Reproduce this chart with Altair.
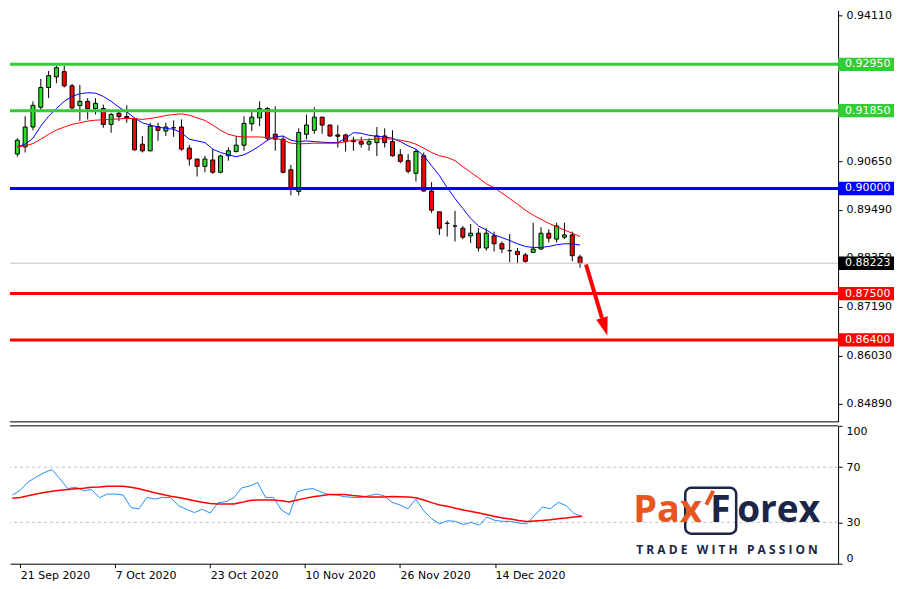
import json
import altair as alt
import pandas as pd

# ---------------- data ----------------
opens = [0.90818, 0.90989, 0.91460, 0.91930, 0.92400, 0.92652, 0.92777, 0.92440, 0.91970, 0.92071,
         0.91900, 0.91900, 0.91523, 0.91789, 0.91711, 0.91655, 0.91053, 0.90895, 0.91467, 0.91366,
         0.91443, 0.91460, 0.90959, 0.90700, 0.90526, 0.90677, 0.90385, 0.90778, 0.90879, 0.91029,
         0.91537, 0.91678, 0.91900, 0.91288, 0.91171, 0.90444, 0.89931, 0.91288, 0.91382, 0.91695,
         0.91507, 0.91272, 0.91272, 0.91147, 0.91114, 0.91053, 0.91090, 0.91248, 0.91114, 0.90801,
         0.90660, 0.90361, 0.90778, 0.89938, 0.89444, 0.89171, 0.89108, 0.89054, 0.88873, 0.88936,
         0.88584, 0.88873, 0.88685, 0.88520, 0.88504, 0.88419, 0.88480, 0.88560, 0.88936, 0.88795,
         0.88842, 0.88896, 0.88372]
highs = [0.91194, 0.91718, 0.92071, 0.92605, 0.92793, 0.92918, 0.92918, 0.92487, 0.92464, 0.92149,
         0.92149, 0.91994, 0.91796, 0.91836, 0.91977, 0.91678, 0.91248, 0.91561, 0.91561, 0.91561,
         0.91617, 0.91641, 0.91036, 0.90700, 0.90778, 0.90935, 0.90801, 0.90973, 0.91248, 0.91718,
         0.91836, 0.92071, 0.91930, 0.91954, 0.91248, 0.90559, 0.91429, 0.91758, 0.91930, 0.91695,
         0.91523, 0.91507, 0.91302, 0.91225, 0.91225, 0.91194, 0.91460, 0.91429, 0.91382, 0.90935,
         0.90818, 0.90935, 0.90855, 0.90150, 0.89444, 0.89233, 0.89468, 0.89108, 0.89155, 0.89054,
         0.89054, 0.88974, 0.88739, 0.88920, 0.88584, 0.88466, 0.89186, 0.89077, 0.89030, 0.89186,
         0.89186, 0.88974, 0.88426]
lows = [0.90754, 0.90855, 0.91382, 0.91852, 0.92149, 0.92502, 0.92400, 0.91876, 0.91601, 0.91641,
        0.91758, 0.91443, 0.91326, 0.91601, 0.91561, 0.90895, 0.90855, 0.90883, 0.91131, 0.91248,
        0.91225, 0.90895, 0.90542, 0.90284, 0.90385, 0.90347, 0.90361, 0.90660, 0.90855, 0.90895,
        0.91366, 0.91483, 0.91131, 0.90895, 0.90361, 0.89837, 0.89837, 0.91171, 0.91302, 0.91302,
        0.91225, 0.90973, 0.90879, 0.90895, 0.90973, 0.90895, 0.90771, 0.90973, 0.90754, 0.90597,
        0.90361, 0.90166, 0.89930, 0.89421, 0.88896, 0.88856, 0.88739, 0.88795, 0.88701, 0.88504,
        0.88520, 0.88504, 0.88466, 0.88245, 0.88231, 0.88231, 0.88480, 0.88544, 0.88715, 0.88715,
        0.88795, 0.88268, 0.88113]
closes = [0.91147, 0.91460, 0.91977, 0.92400, 0.92683, 0.92871, 0.92440, 0.91914, 0.92071, 0.91900,
          0.92024, 0.91523, 0.91758, 0.91711, 0.91678, 0.90919, 0.90895, 0.91483, 0.91382, 0.91460,
          0.91443, 0.90935, 0.90700, 0.90526, 0.90700, 0.90385, 0.90771, 0.90895, 0.91029, 0.91547,
          0.91695, 0.91900, 0.91194, 0.91171, 0.90385, 0.89990, 0.91330, 0.91507, 0.91695, 0.91507,
          0.91248, 0.91241, 0.91114, 0.91114, 0.91053, 0.91114, 0.91248, 0.91090, 0.90778, 0.90644,
          0.90409, 0.90879, 0.89938, 0.89484, 0.89054, 0.89171, 0.89108, 0.88842, 0.88936, 0.88584,
          0.88936, 0.88685, 0.88560, 0.88520, 0.88426, 0.88268, 0.88560, 0.88936, 0.88819, 0.89108,
          0.88896, 0.88402, 0.88223]
ma_fast = [0.90989, 0.91053, 0.91194, 0.91483, 0.91718, 0.91900, 0.92071, 0.92189, 0.92252, 0.92276,
           0.92266, 0.92189, 0.92071, 0.91930, 0.91820, 0.91678, 0.91561, 0.91507, 0.91460, 0.91429,
           0.91406, 0.91326, 0.91171, 0.91131, 0.91090, 0.90935, 0.90855, 0.90801, 0.90754, 0.90801,
           0.90895, 0.91013, 0.91147, 0.91225, 0.91248, 0.91147, 0.91114, 0.91131, 0.91114, 0.91100,
           0.91090, 0.91090, 0.91194, 0.91326, 0.91312, 0.91265, 0.91241, 0.91225, 0.91194, 0.91114,
           0.91013, 0.90935, 0.90778, 0.90542, 0.90307, 0.90018, 0.89759, 0.89524, 0.89289, 0.89108,
           0.89014, 0.88896, 0.88833, 0.88762, 0.88685, 0.88621, 0.88598, 0.88598, 0.88621, 0.88661,
           0.88685, 0.88685, 0.88654]
ma_slow = [0.90989, 0.91013, 0.91067, 0.91171, 0.91288, 0.91389, 0.91460, 0.91523, 0.91561, 0.91601,
           0.91624, 0.91631, 0.91641, 0.91655, 0.91664, 0.91664, 0.91641, 0.91664, 0.91695, 0.91735,
           0.91758, 0.91772, 0.91742, 0.91678, 0.91617, 0.91507, 0.91382, 0.91288, 0.91241, 0.91225,
           0.91225, 0.91225, 0.91208, 0.91194, 0.91147, 0.91079, 0.91060, 0.91067, 0.91076, 0.91076,
           0.91076, 0.91076, 0.91114, 0.91147, 0.91154, 0.91161, 0.91178, 0.91185, 0.91171, 0.91147,
           0.91114, 0.91053, 0.90959, 0.90855, 0.90778, 0.90738, 0.90660, 0.90519, 0.90385, 0.90253,
           0.90112, 0.90018, 0.89891, 0.89759, 0.89625, 0.89484, 0.89367, 0.89266, 0.89171, 0.89092,
           0.89014, 0.88936, 0.88856]
rsi = [49.8, 53.3, 59.3, 62.9, 66.0, 68.3, 61.7, 54.5, 55.5, 52.9,
       53.8, 47.9, 50.5, 50.5, 49.8, 40.7, 39.8, 48.1, 46.9, 48.1,
       47.9, 42.1, 39.5, 37.1, 39.5, 36.7, 44.3, 45.0, 47.9, 55.0,
       56.4, 58.8, 48.1, 48.1, 39.0, 35.5, 52.1, 53.8, 54.5, 52.1,
       50.2, 49.8, 48.6, 48.1, 47.9, 49.3, 50.5, 49.3, 44.5, 42.6,
       39.8, 46.9, 38.3, 32.6, 29.0, 31.2, 30.7, 28.3, 30.0, 27.9,
       33.8, 31.4, 30.7, 30.7, 29.5, 28.8, 35.0, 41.2, 39.8, 44.5,
       42.1, 36.4, 34.3]
rsi_ma = [47.4, 48.1, 49.3, 50.5, 51.7, 52.6, 53.3, 53.8, 54.3, 54.8,
          55.5, 55.7, 56.2, 56.2, 56.2, 55.5, 54.3, 52.9, 51.4, 50.2,
          49.0, 48.1, 46.9, 45.7, 44.5, 43.6, 43.3, 43.3, 43.3, 44.5,
          45.9, 46.2, 46.2, 46.2, 45.7, 44.8, 46.2, 47.4, 48.6, 49.3,
          50.2, 50.2, 50.2, 49.5, 49.0, 48.3, 48.3, 48.3, 48.8, 48.6,
          48.3, 47.9, 46.2, 44.3, 42.6, 41.7, 40.2, 39.0, 37.9, 36.7,
          35.5, 34.3, 33.1, 32.4, 31.4, 30.7, 31.0, 31.4, 31.9, 32.6,
          33.1, 33.8, 34.5]

date_tick_idx = [1, 13, 25, 37, 49, 61]
date_tick_labels = ["21 Sep 2020", "7 Oct 2020", "23 Oct 2020", "10 Nov 2020", "26 Nov 2020", "14 Dec 2020"]
price_ticks = [0.94110, 0.90650, 0.89490, 0.88350, 0.87190, 0.86030, 0.84890]
level_prices = [0.92950, 0.91850, 0.90000, 0.87500, 0.86400]
level_colors = ["#32CD32", "#32CD32", "#0000FF", "#FF0000", "#FF0000"]
current_price = 0.88223
rsi_levels = [30, 70]
rsi_ticks = [0, 30, 70, 100]
arrow_i = [72.76, 74.8]
arrow_p = [0.88191, 0.86921]
arrow_head_i = [75.14]
arrow_head_p = [0.86711]

# ---------------- layout ----------------
W, H1, H2 = 829, 412, 138
X_DOMAIN = [-0.3, 104.37]
P_DOMAIN = [0.84451, 0.94235]
GREEN, RED, BLUE = "#2EDB2E", "#FF0000", "#0000FF"
NAVY, ORANGE = "#1B2545", "#E8561F"
FONT = "DejaVu Sans"

idx = list(range(len(closes)))
candles = pd.DataFrame({"i": idx, "o": opens, "h": highs, "l": lows, "c": closes})
candles["dir"] = ["up" if c >= o else "down" for o, c in zip(opens, closes)]
mas = pd.DataFrame({"i": idx, "fast": ma_fast, "slow": ma_slow})
levels = pd.DataFrame({"p": level_prices, "col": level_colors})
boxes = pd.DataFrame({"p": level_prices + [current_price], "col": level_colors + ["#000000"]})
osc = pd.DataFrame({"i": idx, "rsi": rsi, "ma": rsi_ma})
one = pd.DataFrame({"z": [0]})

xs = alt.Scale(domain=X_DOMAIN, nice=False, zero=False)
ps = alt.Scale(domain=P_DOMAIN, nice=False, zero=False)
rs = alt.Scale(domain=[0, 100], nice=False, zero=False)

y_axis = alt.Axis(orient="right", values=price_ticks, format=".5f", title=None, grid=False,
                  tickSize=4, labelPadding=4, labelOverlap=False)
r_axis = alt.Axis(orient="right", values=rsi_ticks, title=None, grid=False, tickSize=4,
                  labelPadding=4, labelFlush=True, labelOverlap=False)
label_expr = f"{json.dumps(date_tick_labels)}[indexof({json.dumps(date_tick_idx)}, datum.value)]"
x_axis = alt.Axis(values=date_tick_idx, labelExpr=label_expr, title=None, grid=False, tickSize=4,
                  labelAlign="left", labelPadding=2, labelOverlap=False, labelFlush=False)


def PX(field="i"):
    return alt.X(f"{field}:Q", scale=xs, axis=None)


def PY(field):
    return alt.Y(f"{field}:Q", scale=ps, axis=y_axis)


wicks = alt.Chart(candles).mark_rule(color="black", strokeWidth=1).encode(
    x=PX(), y=PY("l"), y2="h:Q")
bodies = alt.Chart(candles).mark_bar(size=4, stroke="black", strokeWidth=1).encode(
    x=PX(), y=PY("o"), y2="c:Q",
    color=alt.Color("dir:N", scale=alt.Scale(domain=["up", "down"], range=[GREEN, RED]), legend=None))
fast_line = alt.Chart(mas).mark_line(color=BLUE, strokeWidth=1).encode(x=PX(), y=PY("fast"))
slow_line = alt.Chart(mas).mark_line(color=RED, strokeWidth=1).encode(x=PX(), y=PY("slow"))
level_rules = alt.Chart(levels).mark_rule(strokeWidth=3).encode(
    y=PY("p"), color=alt.Color("col:N", scale=None))
cur_rule = alt.Chart(pd.DataFrame({"p": [current_price]})).mark_rule(
    color="#C0C0C0", strokeWidth=1).encode(y=PY("p"))
arrow_line = alt.Chart(pd.DataFrame({"i": arrow_i, "p": arrow_p})).mark_line(
    color=RED, strokeWidth=4).encode(x=PX(), y=PY("p"))
arrow_head = alt.Chart(pd.DataFrame({"i": arrow_head_i, "p": arrow_head_p})).mark_point(
    shape="M-0.65,-1L0.65,-1L0,1Z", size=338, angle=343, filled=True, opacity=1,
    color=RED, strokeWidth=0).encode(x=PX(), y=PY("p"))
box_marks = alt.Chart(boxes).mark_point(
    shape="M-1,-0.24L1,-0.24L1,0.24L-1,0.24Z", size=3136, filled=True, opacity=1,
    strokeWidth=0).encode(x=alt.value(W + 28), y=PY("p"), color=alt.Color("col:N", scale=None))
box_text = alt.Chart(boxes).mark_text(
    align="left", baseline="middle", font=FONT, fontSize=11, color="white").encode(
    x=alt.value(W + 7), y=PY("p"), text=alt.Text("p:Q", format=".5f"))
bottom_rule = alt.Chart(one).mark_rule(color="black", strokeWidth=1).encode(
    x=alt.value(0), x2=alt.value(W), y=alt.value(H1))

main = alt.layer(wicks, bodies, fast_line, slow_line, level_rules, cur_rule,
                 arrow_line, arrow_head, box_marks, box_text, bottom_rule).properties(width=W, height=H1)

# ---------------- oscillator panel ----------------
dash_rules = alt.Chart(pd.DataFrame({"lvl": rsi_levels})).mark_rule(
    color="#C0C0C0", strokeDash=[3, 3], strokeWidth=1).encode(
    y=alt.Y("lvl:Q", scale=rs, axis=r_axis))
rsi_line = alt.Chart(osc).mark_line(color="#1E90FF", strokeWidth=1).encode(
    x=alt.X("i:Q", scale=xs, axis=x_axis), y=alt.Y("rsi:Q", scale=rs, axis=r_axis))
rsi_ma_line = alt.Chart(osc).mark_line(color=RED, strokeWidth=1.5).encode(
    x=alt.X("i:Q", scale=xs, axis=x_axis), y=alt.Y("ma:Q", scale=rs, axis=r_axis))
top_rule = alt.Chart(one).mark_rule(color="black", strokeWidth=1).encode(
    x=alt.value(0), x2=alt.value(W), y=alt.value(0))

logo_box = alt.Chart(one).mark_rect(fill="transparent", stroke=NAVY, strokeWidth=2.5,
                                    cornerRadius=6).encode(
    x=alt.value(676), x2=alt.value(727), y=alt.value(62), y2=alt.value(108))
logo_pax = alt.Chart(one).mark_text(text="Pax", font="Open Sans", fontWeight="bold", fontSize=38,
                                    color=ORANGE, align="left", baseline="alphabetic").encode(
    x=alt.value(624), y=alt.value(96))
logo_f = alt.Chart(one).mark_text(text="F", font="Open Sans", fontWeight="bold", fontSize=37,
                                  color=NAVY, align="left", baseline="alphabetic").encode(
    x=alt.value(701), y=alt.value(96))
logo_orex = alt.Chart(one).mark_text(text="orex", font="Open Sans", fontWeight="bold", fontSize=37,
                                     color=NAVY, align="left", baseline="alphabetic").encode(
    x=alt.value(728), y=alt.value(96))
logo_slash = alt.Chart(one).mark_rule(color=ORANGE, strokeWidth=4).encode(
    x=alt.value(697), x2=alt.value(704), y=alt.value(79), y2=alt.value(65))
tagline = "\u00a0".join("TRADE") + "\u00a0\u00a0\u00a0" + "\u00a0".join("WITH") + \
    "\u00a0\u00a0\u00a0" + "\u00a0".join("PASSION")
logo_tag = alt.Chart(one).mark_text(text=tagline, font="Open Sans", fontWeight="bold", fontSize=12,
                                    color=NAVY, align="left", baseline="alphabetic").encode(
    x=alt.value(627), y=alt.value(128))

lower = alt.layer(dash_rules, rsi_line, rsi_ma_line, top_rule, logo_box, logo_slash,
                  logo_pax, logo_f, logo_orex, logo_tag).properties(width=W, height=H2)

chart = alt.vconcat(main, lower, spacing=2).properties(
    padding=0, background="white"
).configure_view(stroke="transparent").configure_axis(
    labelFont=FONT, labelFontSize=11, labelColor="black",
    domainColor="black", tickColor="black", domainWidth=1
)

chart.save("out.html", embed_options={"renderer": "svg", "actions": False})
